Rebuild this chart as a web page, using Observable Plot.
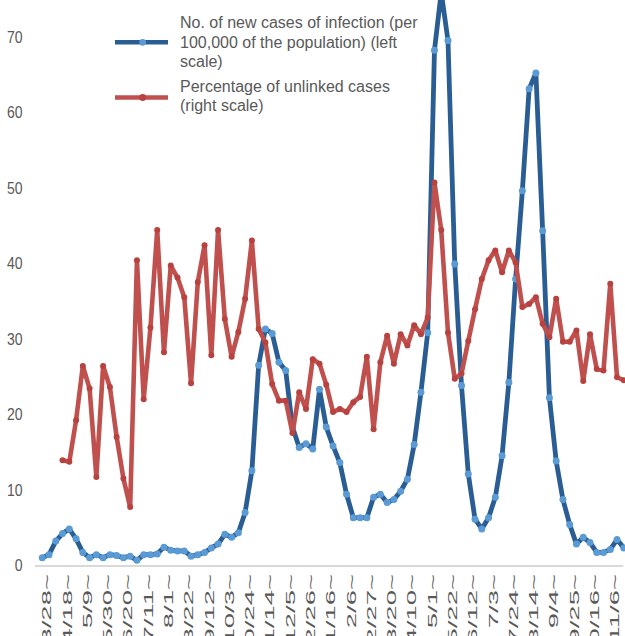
<!DOCTYPE html>
<html>
<head>
<meta charset="utf-8">
<script src="https://cdn.jsdelivr.net/npm/d3@7"></script>
<script src="https://cdn.jsdelivr.net/npm/@observablehq/plot@0.6"></script>
<style>
  html, body { margin: 0; padding: 0; background: #fff; overflow: hidden; }
  #wrap { position: relative; width: 625px; height: 636px; overflow: hidden; font-family: "Liberation Sans", Arial, sans-serif; }
  #legend { position: absolute; left: 0; top: 0; width: 625px; height: 120px; pointer-events: none; color: #595959; font-size: 16px; }
  .lg-text { position: absolute; left: 180px; line-height: 19.5px; white-space: nowrap; }
</style>
</head>
<body>
<div id="wrap">
  <div id="chart"></div>
  <div id="legend"></div>
</div>
<script>
// Weekly x-axis tick labels (every 3rd week, starting week 0)
const tickLabels = ["3/28~","4/18~","5/9~","5/30~","6/20~","7/11~","8/1~","8/22~","9/12~","10/3~",
  "10/24~","11/14~","12/5~","12/26~","1/16~","2/6~","2/27~","3/20~","4/10~","5/1~",
  "5/22~","6/12~","7/3~","7/24~","8/14~","9/4~","9/25~","10/16~","11/6~"];
const weeksPerLabel = 3;

// No. of new cases of infection per 100,000 (left scale), one value per week
const newCases = [1.1,1.5,3.3,4.3,4.9,3.6,1.8,1.1,1.5,1.1,
  1.5,1.4,1.1,1.3,0.75,1.5,1.5,1.6,2.5,2.1,
  2.0,2.0,1.3,1.5,1.8,2.4,2.9,4.2,3.8,4.4,
  7.1,12.6,26.6,31.4,30.8,27.0,25.9,18.4,15.7,16.2,
  15.5,23.4,18.4,15.9,13.7,9.5,6.4,6.4,6.4,9.1,
  9.5,8.4,8.8,9.9,11.5,16.1,23.0,30.9,68.3,76.0,
  69.6,40.0,23.9,12.2,6.2,4.9,6.4,9.1,14.6,24.3,
  38.0,49.7,63.2,65.3,44.4,22.3,13.9,8.8,5.5,2.9,
  3.8,3.1,1.8,1.8,2.2,3.5,2.4];

// Percentage of unlinked cases (drawn at its plotted height), one value per week
const unlinked = [null,null,null,14.0,13.8,19.3,26.5,23.5,11.8,26.5,
  23.7,17.1,11.6,7.8,40.5,22.1,31.6,44.5,28.3,39.8,
  38.2,35.6,24.2,37.6,42.5,27.9,44.5,32.7,27.7,31.0,
  35.4,43.1,31.4,29.6,24.1,21.9,21.9,17.6,23.0,20.8,
  27.4,26.8,24.0,20.4,20.8,20.4,21.7,22.4,27.7,18.1,
  27.0,30.5,26.8,30.7,29.2,31.9,30.7,32.9,50.8,44.5,
  30.9,24.8,25.5,29.8,34.0,38.0,40.5,41.8,38.9,41.8,
  40.2,34.3,34.7,35.6,32.1,30.3,35.4,29.7,29.7,31.2,
  24.5,30.7,26.1,25.9,37.4,25.0,24.6];

const yTicks = [0,10,20,30,40,50,60,70];

const legendItems = [
  {lines: ["No. of new cases of infection (per", "100,000 of the population) (left", "scale)"], line: "#2a5d93", dot: "#5b9bd5"},
  {lines: ["Percentage of unlinked cases", "(right scale)"], line: "#c0504d", dot: "#b8423f"}
];

const rows = newCases.map((v, i) => ({week: i, cases: v, unlinked: unlinked[i]}));
const tickWeeks = tickLabels.map((_, i) => i * weeksPerLabel);
const labelOf = new Map(tickWeeks.map((w, i) => [w, tickLabels[i]]));

const plot = Plot.plot({
  width: 625,
  height: 636,
  marginLeft: 35,
  marginRight: 1.7,
  marginTop: 37,
  marginBottom: 70.5,
  x: {type: "linear", domain: [-1, 86], axis: null, label: null},
  y: {domain: [0, 70], axis: null, label: null},
  style: {fontFamily: "'Liberation Sans', Arial, sans-serif", background: "white", color: "#595959"},
  marks: [
    Plot.ruleY([0], {stroke: "#d9d9d9", strokeWidth: 2}),
    Plot.axisY(yTicks, {anchor: "left", label: null, tickSize: 0, tickPadding: 13, fontSize: 14, fill: "#595959", tickFormat: d => String(d)}),
    Plot.axisX(tickWeeks, {anchor: "bottom", label: null, tickSize: 0, tickPadding: 8, tickRotate: -90, fontSize: 12.5, fill: "#595959", dx: 5, tickFormat: d => labelOf.get(d)}),
    Plot.line(rows, {x: "week", y: "cases", stroke: "#2a5d93", strokeWidth: 4.8, strokeLinejoin: "round"}),
    Plot.dot(rows, {x: "week", y: "cases", r: 3.5, fill: "#5b9bd5", stroke: "none"}),
    Plot.line(rows, {x: "week", y: "unlinked", stroke: "#c0504d", strokeWidth: 4.6, strokeLinejoin: "round"}),
    Plot.dot(rows, {x: "week", y: "unlinked", r: 3, fill: "#b8423f", stroke: "none"})
  ]
});

// stretch tick labels to match the reference's glyph proportions
plot.querySelectorAll("text").forEach(t => {
  const tr = t.getAttribute("transform") || "";
  if (/rotate\(-90\)/.test(tr)) t.setAttribute("transform", tr + " scale(2.2,1)");
  else if (tr) t.setAttribute("transform", tr + " scale(1,1.15)");
});

document.getElementById("chart").appendChild(plot);

// Legend (overlay in the top area of the chart)
const legend = d3.select("#legend");
const svgL = legend.append("svg").attr("width", 625).attr("height", 120).style("position", "absolute").style("left", 0).style("top", 0);
const itemCentres = [42.3, 97.5];
const textTops = [13.2, 76.5];
legendItems.forEach((it, k) => {
  svgL.append("line").attr("x1", 115).attr("x2", 168).attr("y1", itemCentres[k]).attr("y2", itemCentres[k])
    .attr("stroke", it.line).attr("stroke-width", 4.6);
  svgL.append("circle").attr("cx", 142.7).attr("cy", itemCentres[k]).attr("r", 3.4).attr("fill", it.dot);
  legend.append("div").attr("class", "lg-text").style("top", textTops[k] + "px")
    .html(it.lines.join("<br>"));
});
</script>
</body>
</html>
